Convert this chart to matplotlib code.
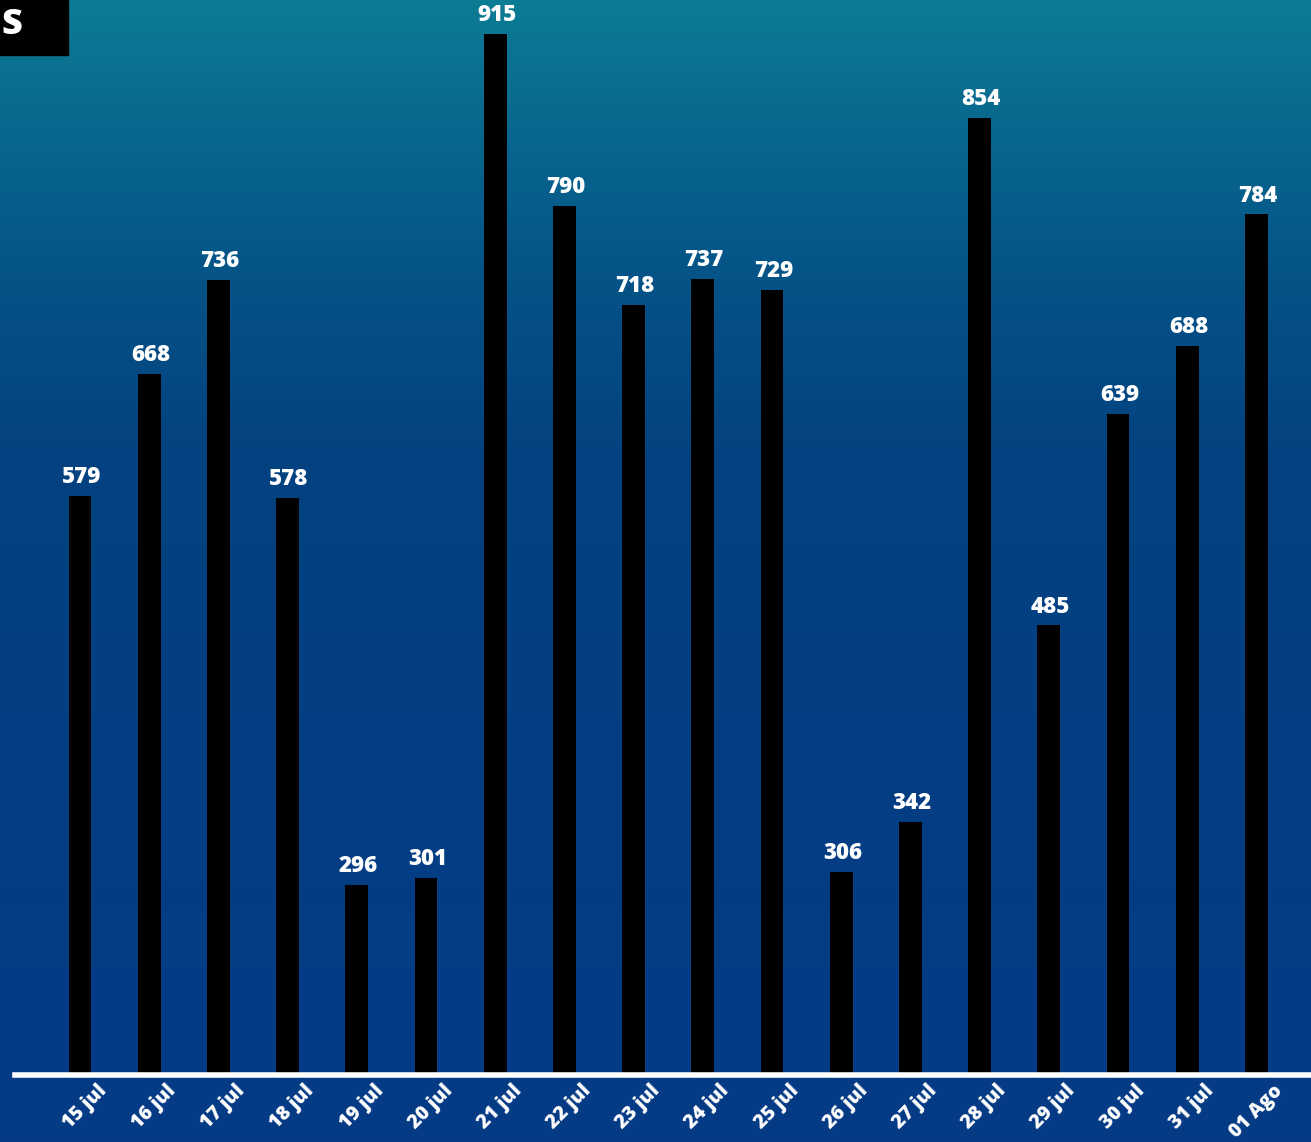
import numpy as np
import matplotlib.pyplot as plt
from matplotlib.colors import LinearSegmentedColormap
from matplotlib.patches import Rectangle

# data
dates = ['15 jul', '16 jul', '17 jul', '18 jul', '19 jul', '20 jul', '21 jul', '22 jul', '23 jul',
         '24 jul', '25 jul', '26 jul', '27 jul', '28 jul', '29 jul', '30 jul', '31 jul', '01 Ago']
values = [579, 668, 736, 578, 296, 301, 915, 790, 718, 737, 729, 306, 342, 854, 485, 639, 688, 784]

W, H = 1311, 1142
fig = plt.figure(figsize=(W / 100, H / 100), dpi=100)

# background gradient (teal at top -> deep blue)
bg = fig.add_axes([0, 0, 1, 1], zorder=0)
cmap = LinearSegmentedColormap.from_list('bg', [
    (0.00, (12/255, 124/255, 148/255)),
    (0.10, (9/255, 105/255, 143/255)),
    (0.25, (5/255, 82/255, 135/255)),
    (0.40, (3/255, 66/255, 128/255)),
    (1.00, (6/255, 58/255, 134/255)),
])
grad = np.linspace(0, 1, 256).reshape(-1, 1)
bg.imshow(grad, aspect='auto', cmap=cmap, extent=[0, 1, 0, 1], origin='upper')
bg.axis('off')

# chart axes: baseline at y=1075px, left edge 15px
base_px = 1075
ymin, ymax = 158, 940
ax = fig.add_axes([15 / W, (H - base_px) / H, 1 - 15 / W, base_px / H], zorder=1)
ax.patch.set_alpha(0)

x = np.arange(len(values))
ax.bar(x, values, width=0.33, color='black', zorder=2)
ax.set_xlim(-0.94, 17.79)
ax.set_ylim(ymin, ymax)

for xi, v in zip(x, values):
    ax.annotate(str(v), xy=(xi, v), xytext=(1, 5), textcoords='offset points',
                ha='center', va='bottom', color='white', fontsize=16,
                fontweight='heavy', family='Open Sans')

for xi, lab in zip(x, dates):
    ax.annotate(lab, xy=(xi, ymin), xytext=(12, -4), textcoords='offset points',
                ha='right', va='top', rotation=45, rotation_mode='anchor',
                color='white', fontsize=14, fontweight='heavy', family='Open Sans',
                annotation_clip=False)

ax.axhline(ymin, color='white', lw=4, zorder=3, clip_on=False)
for s in ax.spines.values():
    s.set_visible(False)
ax.set_xticks([])
ax.set_yticks([])

# cropped title box in the top-left corner
fig.patches.append(Rectangle((0, 1 - 55 / H), 68 / W, 55 / H, transform=fig.transFigure,
                             color='black', zorder=5))
fig.text(1 / W, 1 - 25 / H, 'S', ha='left', va='center', color='white',
         fontsize=26, fontweight='heavy', family='Open Sans', zorder=6)

fig.savefig('out.png', dpi=100)
